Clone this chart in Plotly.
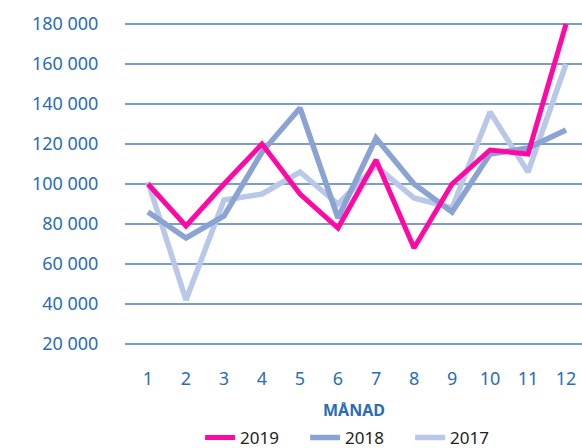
import plotly.graph_objects as go

months = [1, 2, 3, 4, 5, 6, 7, 8, 9, 10, 11, 12]
y2019 = [100000, 79000, 100000, 120000, 95000, 78000, 112000, 68000, 100000, 117000, 115000, 180000]
y2018 = [86000, 73000, 84000, 116000, 138000, 83000, 123000, 100000, 86000, 115000, 118000, 127000]
y2017 = [101000, 42000, 92000, 95000, 106000, 90000, 109000, 93000, 88000, 136000, 106000, 160000]
ytickvals = [20000, 40000, 60000, 80000, 100000, 120000, 140000, 160000, 180000]
yticktext = ["20 000", "40 000", "60 000", "80 000", "100 000", "120 000", "140 000", "160 000", "180 000"]

blue_txt = "#2a6db5"
font_family = "Noto Sans, Open Sans, sans-serif"

fig = go.Figure()
fig.add_trace(go.Scatter(x=months, y=y2017, name="2017", mode="lines",
                         line=dict(color="#b9c8e8", width=5.5)))
fig.add_trace(go.Scatter(x=months, y=y2018, name="2018", mode="lines",
                         line=dict(color="#8ba3d3", width=5.5)))
fig.add_trace(go.Scatter(x=months, y=y2019, name="2019", mode="lines",
                         line=dict(color="#ff09a6", width=5)))
for tr in fig.data:
    tr.cliponaxis = False

fig.update_layout(
    width=582, height=448,
    margin=dict(l=125, r=0, t=20, b=100, autoexpand=False),
    plot_bgcolor="white", paper_bgcolor="white",
    font=dict(family=font_family, size=17, color=blue_txt),
    showlegend=True,
    legend=dict(orientation="h", x=0.509, xanchor="center", y=-0.274, yanchor="middle",
                traceorder="reversed", entrywidth=60, entrywidthmode="pixels",
                font=dict(size=17, color="#222222")),
    xaxis=dict(range=[0.395, 12.42], tickvals=months, ticktext=[str(m) for m in months],
               showgrid=False, zeroline=False, showline=False,
               ticks="outside", ticklen=14, tickcolor="rgba(0,0,0,0)",
               tickfont=dict(size=18, color=blue_txt)),
    yaxis=dict(range=[18000, 182000], tickvals=ytickvals, ticktext=yticktext,
               showgrid=True, gridcolor="#7a9ccf", gridwidth=1.5, zeroline=False, showline=False,
               ticks="outside", ticklen=22, tickcolor="rgba(0,0,0,0)",
               tickfont=dict(size=18, color=blue_txt)),
    annotations=[dict(text="<b>MÅNAD</b>", x=0.5, xref="paper", y=-0.189, yref="paper",
                      xanchor="center", yanchor="middle", showarrow=False,
                      font=dict(size=16, color=blue_txt))],
)

fig.write_html("out.html", config={"displayModeBar": False},
               post_script="document.body.style.margin='0px';document.body.style.overflow='hidden';")
